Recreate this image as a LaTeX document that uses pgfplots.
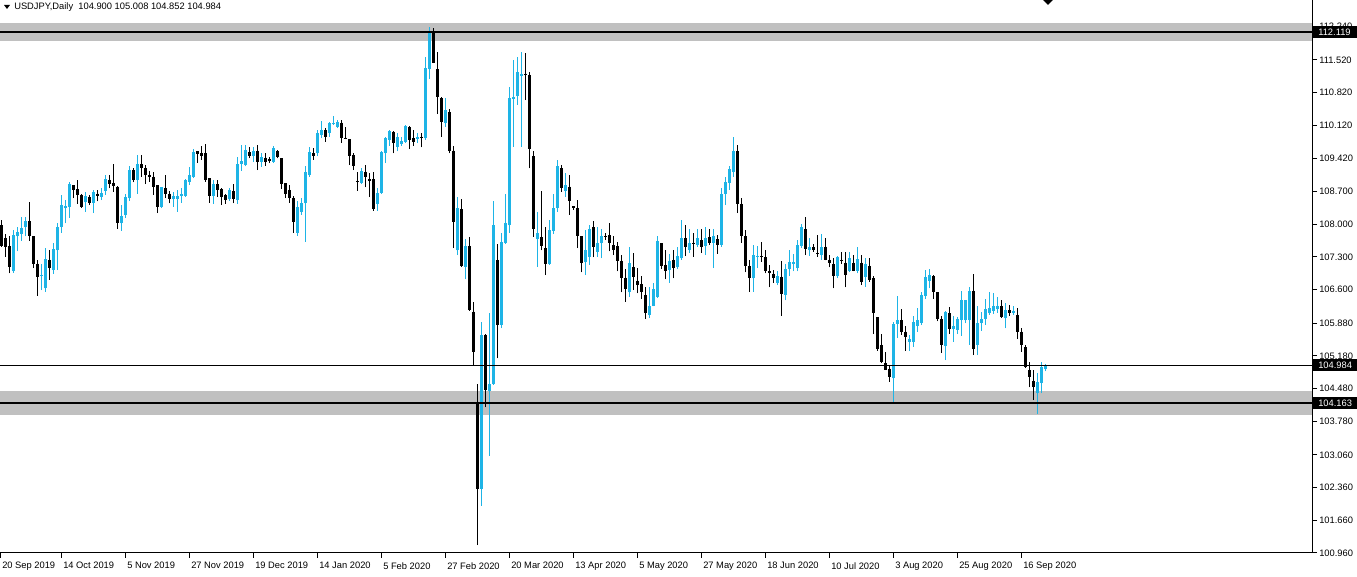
\documentclass[border=0pt]{standalone}
\usepackage{fontspec}
\setmainfont{Liberation Sans}
\usepackage{pgfplots}
\usepackage{pgfplotstable}
\pgfplotsset{compat=1.18}
\definecolor{bullc}{RGB}{30,180,230}
\definecolor{zonec}{RGB}{192,192,192}

\pgfplotstableread{
i O H L C
4 106.99 107.88 106.96 107.77
5 107.74 107.95 107.42 107.84
6 107.79 108.16 107.65 107.93
7 107.94 108.16 107.74 108.07
11 106.89 107.16 106.59 106.91
12 106.63 107.49 106.56 107.26
14 107.02 107.61 106.94 107.47
15 107.44 108.02 107.02 107.95
16 107.95 108.63 107.82 108.41
17 108.34 108.52 108.02 108.39
18 108.38 108.91 108.14 108.86
22 108.47 108.70 108.27 108.61
24 108.46 108.74 108.24 108.70
26 108.58 108.77 108.52 108.68
27 108.72 109.05 108.63 108.97
31 108.02 108.41 107.86 108.18
32 108.20 108.66 108.13 108.58
33 108.56 109.24 108.51 109.16
35 108.95 109.49 108.66 109.29
41 108.38 108.81 108.34 108.79
44 108.54 108.70 108.38 108.61
45 108.54 108.74 108.27 108.61
46 108.61 108.77 108.46 108.65
47 108.61 108.98 108.58 108.94
48 108.91 109.22 108.84 109.06
49 109.02 109.61 108.99 109.54
54 108.61 108.95 108.44 108.86
58 108.54 108.77 108.51 108.74
60 108.52 109.45 108.44 109.29
61 109.29 109.70 109.15 109.36
62 109.27 109.70 109.24 109.59
64 109.47 109.65 109.34 109.58
66 109.34 109.52 109.23 109.45
69 109.34 109.68 109.31 109.63
75 107.82 108.49 107.75 108.38
76 108.27 108.56 108.20 108.46
77 108.45 109.24 107.63 109.13
78 109.06 109.66 109.02 109.54
80 109.52 110.02 109.46 109.95
81 109.91 110.22 109.84 110.01
83 109.96 110.20 109.88 110.18
84 110.14 110.31 110.13 110.16
85 110.08 110.24 110.06 110.20
91 108.88 109.20 108.86 109.15
95 108.44 108.77 108.29 108.68
96 108.68 109.56 108.66 109.54
97 109.52 109.88 109.31 109.84
98 109.81 110.01 109.68 110.00
100 109.66 109.95 109.56 109.88
101 109.72 109.88 109.68 109.79
102 109.77 110.13 109.75 110.11
105 109.82 109.95 109.74 109.88
107 109.84 111.59 109.81 111.34
108 111.32 112.23 111.11 112.13
112 110.16 110.70 110.09 110.44
115 107.44 108.59 107.34 108.34
117 107.09 107.68 106.82 107.54
121 102.34 105.91 101.97 105.63
123 104.42 106.09 103.04 104.59
124 104.59 108.49 104.56 107.98
126 105.84 107.82 105.77 107.63
127 107.60 108.65 107.58 108.03
128 107.98 110.95 107.82 110.70
129 110.68 111.52 109.66 110.73
130 110.75 111.59 110.56 111.27
131 111.18 111.70 109.66 111.23
135 107.68 108.27 107.09 107.81
138 107.16 108.09 107.13 107.88
139 107.86 108.66 107.79 108.36
140 108.34 109.38 108.27 109.24
142 108.72 109.09 108.59 108.84
147 107.20 107.88 106.91 107.44
148 107.31 107.99 107.13 107.89
150 107.41 107.95 107.31 107.59
151 107.59 107.89 107.27 107.75
158 106.54 107.51 106.45 107.18
163 106.06 106.66 105.99 106.25
164 106.25 106.74 106.24 106.61
165 106.45 107.75 106.42 107.65
168 107.02 107.36 106.75 107.22
170 107.08 107.52 107.04 107.32
171 107.27 108.09 107.24 107.70
173 107.46 107.89 107.39 107.59
175 107.56 107.91 107.52 107.70
177 107.54 107.94 107.34 107.70
179 107.60 107.89 107.06 107.75
181 107.56 108.77 107.52 108.66
182 108.66 109.02 108.41 108.91
183 108.88 109.25 108.74 109.18
184 109.13 109.86 109.02 109.58
189 106.84 107.56 106.56 107.34
190 107.30 107.54 107.06 107.32
195 106.75 106.99 106.70 106.89
197 106.49 107.16 106.37 107.04
198 107.04 107.44 106.89 107.20
199 107.16 107.36 106.99 107.20
200 107.06 107.66 106.99 107.56
201 107.54 108.01 107.49 107.94
203 107.44 107.70 107.32 107.51
206 107.34 107.79 107.24 107.52
210 106.89 107.32 106.84 107.29
213 107.01 107.41 106.97 107.27
215 107.01 107.52 106.95 107.25
217 106.88 107.27 106.66 107.15
224 104.70 105.90 104.17 105.87
225 105.87 106.46 105.56 105.95
228 105.49 105.63 105.29 105.54
229 105.49 106.04 105.38 105.91
230 105.82 106.20 105.70 105.95
231 105.89 106.56 105.84 106.49
232 106.46 107.02 106.41 106.88
233 106.79 107.04 106.63 106.91
237 105.39 106.14 105.09 106.13
239 105.75 106.04 105.49 105.82
240 105.74 106.01 105.65 105.97
241 105.95 106.58 105.61 106.37
242 105.94 106.38 105.88 106.37
243 105.95 106.66 105.42 106.58
245 105.42 106.25 105.20 105.89
246 105.89 106.13 105.72 105.97
247 105.97 106.39 105.84 106.18
248 106.09 106.56 106.06 106.20
249 106.15 106.52 106.08 106.24
250 106.18 106.45 106.11 106.24
252 105.99 106.31 105.77 106.16
254 106.11 106.24 106.06 106.15
260 104.38 104.81 103.94 104.63
261 104.61 105.06 104.38 104.94
262 104.900 105.008 104.852 104.984
}\bulldata

\pgfplotstableread{
i O H L C
1 107.99 108.09 107.52 107.54
2 107.71 107.79 107.31 107.52
3 107.54 107.74 106.95 107.08
8 108.07 108.47 107.65 107.74
9 107.74 107.75 107.06 107.15
10 107.16 107.24 106.47 106.88
13 107.24 107.45 106.81 107.07
19 108.84 108.85 108.56 108.74
20 108.76 108.95 108.44 108.63
21 108.63 108.66 108.36 108.38
23 108.58 108.63 108.41 108.45
25 108.66 108.74 108.49 108.61
28 108.95 109.06 108.77 108.86
29 108.89 109.29 108.70 108.82
30 108.81 108.82 107.91 108.02
34 109.16 109.20 108.90 108.95
36 109.29 109.49 109.02 109.20
37 109.21 109.27 108.86 109.06
38 109.06 109.15 108.91 109.02
39 109.02 109.13 108.63 108.81
40 108.84 108.85 108.24 108.38
42 108.77 109.06 108.56 108.66
43 108.66 108.72 108.45 108.54
50 109.56 109.57 109.31 109.50
51 109.52 109.68 109.38 109.47
52 109.52 109.72 108.91 108.94
53 108.99 109.00 108.46 108.61
55 108.86 108.95 108.59 108.74
56 108.76 108.77 108.41 108.58
57 108.63 108.66 108.44 108.52
59 108.71 108.86 108.45 108.54
63 109.54 109.66 109.41 109.47
65 109.58 109.70 109.16 109.34
67 109.43 109.52 109.25 109.34
68 109.40 109.45 109.31 109.36
70 109.56 109.59 109.41 109.45
71 109.41 109.42 108.76 108.86
72 108.88 108.89 108.56 108.66
73 108.74 108.84 108.46 108.56
74 108.56 108.61 107.82 108.06
79 109.52 109.63 109.38 109.47
82 110.01 110.06 109.77 109.86
86 110.18 110.24 109.75 109.84
87 109.85 110.09 109.82 109.83
88 109.82 109.83 109.27 109.47
89 109.48 109.52 109.16 109.25
90 108.92 109.13 108.72 108.90
92 109.13 109.27 108.79 109.01
93 108.96 109.09 108.58 108.92
94 108.96 109.13 108.29 108.32
99 109.98 109.99 109.52 109.75
103 110.08 110.11 109.61 109.81
104 109.84 110.02 109.68 109.77
106 109.88 109.95 109.65 109.86
109 112.13 112.20 111.45 111.46
110 111.32 111.70 110.36 110.72
111 110.70 110.72 109.88 110.20
113 110.41 110.48 109.52 109.56
114 109.58 109.68 107.49 108.04
116 108.32 108.54 107.09 107.11
118 107.54 107.72 106.15 106.16
119 106.13 106.34 104.99 105.27
120 104.20 104.59 101.13 102.32
122 105.63 105.64 104.08 104.45
125 107.24 107.58 105.13 105.84
132 111.23 111.68 110.66 111.20
133 111.20 111.27 109.20 109.61
134 109.46 109.56 107.73 107.91
136 107.72 108.72 107.44 107.54
137 107.49 107.95 106.91 107.16
141 109.20 109.27 108.70 108.77
143 108.81 109.06 108.20 108.49
144 108.39 108.40 108.31 108.34
145 108.34 108.52 107.49 107.74
146 107.74 107.75 106.97 107.18
149 107.94 108.08 107.29 107.51
152 107.74 107.82 107.66 107.72
153 107.77 108.03 107.42 107.61
154 107.56 107.75 107.34 107.44
155 107.54 107.63 106.99 107.22
156 107.22 107.34 106.54 106.84
157 106.86 107.04 106.34 106.61
159 107.09 107.39 106.59 106.88
160 106.79 107.06 106.52 106.70
161 106.72 106.89 106.41 106.54
162 106.49 106.66 105.97 106.09
166 107.59 107.61 107.04 107.11
167 107.13 107.44 106.82 107.01
169 107.24 107.44 106.84 107.06
172 107.70 107.99 107.32 107.51
174 107.61 107.81 107.31 107.58
176 107.66 107.89 107.39 107.52
178 107.72 107.89 107.56 107.61
180 107.68 107.77 107.37 107.56
185 109.56 109.70 108.24 108.44
186 108.44 108.56 107.61 107.74
187 107.74 107.88 106.97 107.11
188 107.11 107.24 106.56 106.84
191 107.32 107.63 107.20 107.29
192 107.29 107.44 106.95 106.99
193 106.99 107.13 106.65 106.95
194 106.94 107.02 106.75 106.84
196 106.88 107.22 106.04 106.51
202 107.89 108.15 107.34 107.47
204 107.51 107.58 107.41 107.46
205 107.38 107.77 107.31 107.36
207 107.52 107.70 107.23 107.24
208 107.24 107.34 107.08 107.18
209 107.15 107.27 106.63 106.89
211 107.24 107.41 107.16 107.22
212 107.18 107.41 106.65 106.91
214 107.18 107.34 106.99 107.01
216 107.18 107.34 106.70 106.77
218 107.11 107.27 106.77 106.81
219 106.84 106.89 105.65 106.11
220 106.01 106.02 105.29 105.34
221 105.42 105.66 105.04 105.05
222 105.02 105.27 104.88 104.89
223 104.91 104.99 104.63 104.74
226 105.95 106.18 105.63 105.70
227 105.70 105.82 105.29 105.58
234 106.89 106.91 106.41 106.56
235 106.54 106.55 105.92 105.97
236 105.97 106.04 105.25 105.42
238 106.09 106.22 105.65 105.75
244 106.58 106.94 105.20 105.34
251 106.24 106.38 105.99 106.01
253 106.16 106.27 106.04 106.11
255 106.06 106.20 105.54 105.70
256 105.70 105.77 105.27 105.42
257 105.37 105.42 104.92 104.94
258 104.88 105.06 104.51 104.72
259 104.65 104.89 104.24 104.51
}\beardata

\begin{document}
\begin{tikzpicture}
\useasboundingbox (0,0) rectangle (1017.75pt,432.75pt);
\begin{axis}[
  scale only axis, width=984pt, height=414.75pt,
  at={(0pt,432.75pt)}, anchor=north west,
  xmin=0.75, xmax=328.75, ymin=100.96, ymax=112.805,
  axis x line*=bottom, axis y line*=right,
  axis line style={black, line width=0.75pt},
  tick align=outside, major tick length=3.75pt,
  tick style={black, line width=0.75pt},
  every tick label/.append style={font=\fontsize{7pt}{8pt}\selectfont},
  xtick={0.75,16,32,48,64,80,96,112,128,144,160,176,192,208,224,240,256},
  xticklabels={20 Sep 2019, 14 Oct 2019, 5 Nov 2019, 27 Nov 2019, 19 Dec 2019, 14 Jan 2020, 5 Feb 2020, 27 Feb 2020, 20 Mar 2020, 13 Apr 2020, 5 May 2020, 27 May 2020, 18 Jun 2020, 10 Jul 2020, 3 Aug 2020, 25 Aug 2020, 16 Sep 2020},
  xticklabel style={anchor=north west, inner sep=0pt, xshift=1.5pt, yshift=-3pt},
  ytick={100.96,101.66,102.36,103.06,103.78,104.48,105.18,105.88,106.60,107.30,108.00,108.70,109.42,110.12,110.82,111.52,112.24},
  yticklabels={100.960,101.660,102.360,103.060,103.780,104.480,105.180,105.880,106.600,107.300,108.000,108.700,109.420,110.120,110.820,111.520,112.240},
  yticklabel style={anchor=west, inner sep=0pt, xshift=1.5pt},
]
% zones
\fill[zonec] (axis cs:0.75,111.93) rectangle (axis cs:328.75,112.32);
\fill[zonec] (axis cs:0.75,103.92) rectangle (axis cs:328.75,104.42);
% candles
\addplot[bullc, line width=0.75pt, quiver={u=0, v=\thisrow{H}-\thisrow{L}}] table[x=i, y=L] {\bulldata};
\addplot[bullc, line width=2.25pt, quiver={u=0, v=\thisrow{C}-\thisrow{O}}] table[x=i, y=O] {\bulldata};
\addplot[black, line width=0.75pt, quiver={u=0, v=\thisrow{H}-\thisrow{L}}] table[x=i, y=L] {\beardata};
\addplot[black, line width=2.25pt, quiver={u=0, v=\thisrow{C}-\thisrow{O}}] table[x=i, y=O] {\beardata};
% lines
\draw[black, line width=1.5pt] (axis cs:0.75,112.119) -- (axis cs:328.75,112.119);
\draw[black, line width=1.5pt] (axis cs:0.75,104.163) -- (axis cs:328.75,104.163);
\draw[black, line width=0.75pt] (axis cs:0.75,104.984) -- (axis cs:328.75,104.984);
\coordinate (tA) at (axis cs:328.75,112.119);
\coordinate (tB) at (axis cs:328.75,104.984);
\coordinate (tC) at (axis cs:328.75,104.163);
\end{axis}
\foreach \c/\t in {tA/112.119, tB/104.984, tC/104.163}{
  \fill[black] ([yshift=-4.5pt]\c) rectangle ++(33.75pt,9pt);
  \node[anchor=west, inner sep=0pt, text=white, xshift=4.5pt, font=\fontsize{7pt}{8pt}\selectfont] at (\c) {\t};
}
\begin{scope}[x=0.75pt, y=-0.75pt, shift={(0pt,432.75pt)}]
  \fill[black] (4,5) -- (10,5) -- (7,9) -- cycle;
  \node[anchor=west, inner sep=0pt, font=\fontsize{7pt}{8pt}\selectfont] at (14,7.5) {USDJPY,Daily\ \ 104.900 105.008 104.852 104.984};
  \fill[black] (1043,0) -- (1053,0) -- (1048,5) -- cycle;
\end{scope}
\end{tikzpicture}
\end{document}
